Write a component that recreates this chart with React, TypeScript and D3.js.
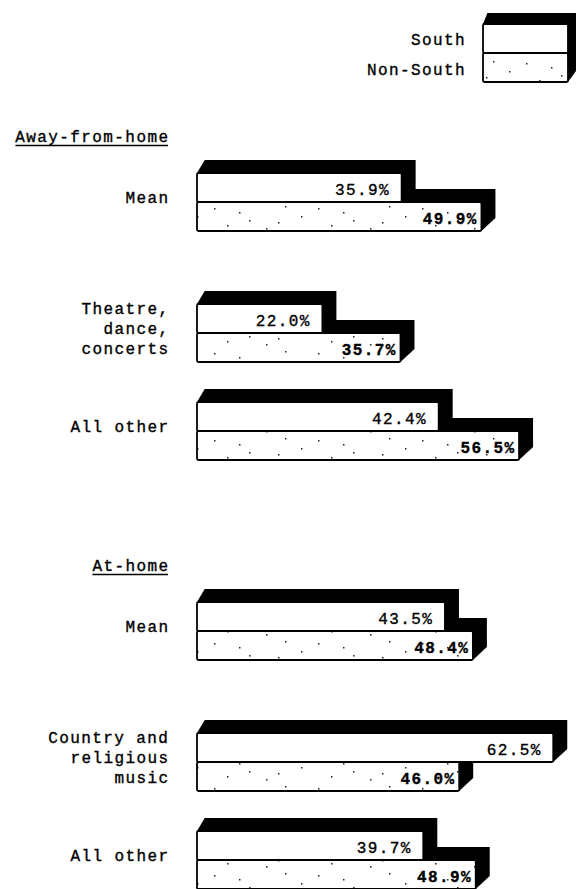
import React from "react";
import * as d3 from "d3";

// ---- data ----
const sections = ["Away-from-home", "At-home"];
const categories = [
  "Mean",
  "Theatre,\ndance,\nconcerts",
  "All other",
  "Mean",
  "Country and\nreligious\nmusic",
  "All other",
];
const categorySection = [0, 0, 0, 1, 1, 1];
const seriesNames = ["South", "Non-South"];
const southValues = [35.9, 22.0, 42.4, 43.5, 62.5, 39.7];
const nonSouthValues = [49.9, 35.7, 56.5, 48.4, 46.0, 48.9];

const W = 583;
const H = 889;
const FONT = "'Liberation Mono', 'DejaVu Sans Mono', monospace";
const FS = 16;
const LS = 1.4;
const ADV = FS * 0.6 + LS;

const DX = 14;
const DY = 13;
const BAR_H = 29;

const boxShadowPath = (x0: number, x1: number, top: number, bottom: number, dx: number, dy: number) =>
  d3.line()([
    [x0, top],
    [x0 + dx * 0.55, top - dy],
    [x1 + dx, top - dy],
    [x1 + dx, bottom - dy],
    [x1, bottom],
    [x0, bottom],
  ] as [number, number][])! + "Z";

export default function App() {
  const x = d3.scaleLinear().domain([0, 100]).range([197, 767]);
  const sectionTop = d3.scaleLinear().domain([0, 1]).range([173, 602]);
  const rowStep = 98;
  const meanGap = 33;

  const rows = categories.map((cat, i) => {
    const s = categorySection[i];
    const idx = categorySection.slice(0, i).filter((v) => v === s).length;
    const top = sectionTop(s) + rowStep * idx + (idx > 0 ? meanGap : 0);
    return { cat, i, s, top, south: southValues[i], non: nonSouthValues[i] };
  });

  // sparse stipple texture for the Non-South fill
  const dots: [number, number][] = [
    [6, 5], [41, 17], [77, 3], [19, 22], [58, 25], [93, 13], [31, 9], [70, 19],
  ];

  const textProps = {
    fontFamily: FONT,
    fontSize: FS,
    letterSpacing: LS,
    fill: "#000",
    stroke: "#000",
    strokeWidth: 0.35,
  } as const;

  const renderPair = (
    key: string,
    x0: number,
    xs: number,
    xn: number,
    top: number,
    dx: number,
    dy: number
  ) => {
    const mid = top + BAR_H;
    const bot = mid + BAR_H;
    return (
      <g key={key}>
        <path d={boxShadowPath(x0, xn, mid, bot, dx, dy)} fill="#000" />
        <path d={boxShadowPath(x0, xs, top, mid, dx, dy)} fill="#000" />
        <rect x={x0} y={top} width={xs - x0} height={BAR_H} fill="#fff" stroke="#000" strokeWidth={1.8} rx={1.5} />
        <rect x={x0} y={mid} width={xn - x0} height={BAR_H} fill="url(#stipple)" stroke="#000" strokeWidth={1.8} rx={1.5} />
      </g>
    );
  };

  return (
    <svg
      width={W}
      height={H}
      viewBox={`0 0 ${W} ${H}`}
      style={{ position: "absolute", left: 0, top: 0, background: "#fff" }}
    >
      <defs>
        <pattern id="stipple" width={104} height={29} patternUnits="userSpaceOnUse">
          <rect width={104} height={29} fill="#fff" />
          {dots.map(([a, b], k) => (
            <rect key={k} x={a} y={b} width={1.5} height={1.5} fill="#222" />
          ))}
        </pattern>
      </defs>

      {/* Legend */}
      {renderPair("legend", 483, 568, 568, 24, 8, 11)}
      {seriesNames.map((name, k) => (
        <text key={name} x={466} y={45 + k * 30} textAnchor="end" {...textProps}>
          {name}
        </text>
      ))}

      {/* Section headings */}
      {sections.map((name, s) => {
        const baseY = sectionTop(s) - 31;
        const right = 168;
        const w = name.length * ADV - LS;
        return (
          <g key={name}>
            <text x={right + LS} y={baseY} textAnchor="end" {...textProps}>
              {name}
            </text>
            <line x1={right - w} x2={right} y1={baseY + 3.5} y2={baseY + 3.5} stroke="#000" strokeWidth={1.5} />
          </g>
        );
      })}

      {/* Bars */}
      {rows.map((r) => {
        const x0 = x(0);
        const xs = x(r.south);
        const xn = x(r.non);
        const mid = r.top + BAR_H;
        const center = r.top + BAR_H;
        const lines = r.cat.split("\n");
        return (
          <g key={r.i}>
            {renderPair("b" + r.i, x0, xs, xn, r.top, DX, DY)}
            <text x={xs - 13 + LS} y={r.top + 22} textAnchor="end" {...textProps}>
              {r.south.toFixed(1) + "%"}
            </text>
            <text x={xn - 5 + LS} y={mid + 22} textAnchor="end" fontWeight="bold" {...textProps}>
              {r.non.toFixed(1) + "%"}
            </text>
            {lines.map((ln, k) => (
              <text
                key={k}
                x={168 + LS}
                y={center + 1 + (k - (lines.length - 1) / 2) * 20}
                textAnchor="end"
                {...textProps}
              >
                {ln}
              </text>
            ))}
          </g>
        );
      })}
    </svg>
  );
}
